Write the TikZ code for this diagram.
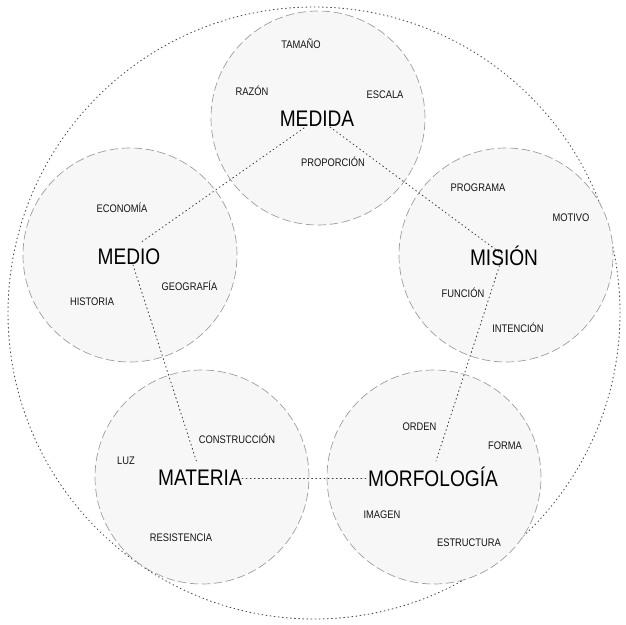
\documentclass[tikz,border=0pt]{standalone}
\usepackage{fontspec}
\setmainfont{Liberation Sans}[FakeStretch=0.85]
\begin{document}
\begin{tikzpicture}[x=1pt,y=-1pt,
  zone/.style={circle, draw=black!38, fill=black!3, dash pattern=on 8.5pt off 3.5pt, line width=0.7pt, minimum size=214pt, inner sep=0pt},
  outer/.style={circle, draw=black!70, line width=0.9pt, dash pattern=on 0.9pt off 3.2pt, line cap=round, minimum size=612pt, inner sep=0pt},
  big/.style={font=\fontsize{22.5}{24}\selectfont, inner sep=0pt, text height=16.1pt, text depth=0pt, text=black},
  small/.style={font=\fontsize{11}{12}\selectfont, inner sep=0pt, text height=7.9pt, text depth=0pt, text=black!92},
  link/.style={draw=black!75, line width=0.9pt, dash pattern=on 0.9pt off 3.2pt, line cap=round}]
\useasboundingbox (0,0) rectangle (626,624);
\node[outer] (ring) at (314,313) {};
\node[zone] (cMedida) at (318,118) {};
\node[zone] (cMedio) at (130,255) {};
\node[zone] (cMision) at (506,255) {};
\node[zone] (cMateria) at (202,477) {};
\node[zone] (cMorf) at (434,477) {};
% MEDIDA
\node[big] (medida) at (317,118) {MEDIDA};
\node[small] (tamano) at (301,45) {TAMAÑO};
\node[small] (razon) at (252,92) {RAZÓN};
\node[small] (escala) at (385,95) {ESCALA};
\node[small] (proporcion) at (333,163) {PROPORCIÓN};
% MISION
\node[big] (mision) at (504,257) {MISIÓN};
\node[small] (programa) at (478,188) {PROGRAMA};
\node[small] (motivo) at (571,218) {MOTIVO};
\node[small] (funcion) at (463,294) {FUNCIÓN};
\node[small] (intencion) at (518,329) {INTENCIÓN};
% MEDIO
\node[big] (medio) at (129,256) {MEDIO};
\node[small] (economia) at (122,209) {ECONOMÍA};
\node[small] (geografia) at (189.5,287) {GEOGRAFÍA};
\node[small] (historia) at (92,302) {HISTORIA};
% MATERIA
\node[big] (materia) at (200,477) {MATERIA};
\node[small] (construccion) at (237,440) {CONSTRUCCIÓN};
\node[small] (luz) at (126,461) {LUZ};
\node[small] (resistencia) at (181,538) {RESISTENCIA};
% MORFOLOGIA
\node[big] (morf) at (433,478) {MORFOLOGÍA};
\node[small] (orden) at (419.5,427) {ORDEN};
\node[small] (forma) at (505,446) {FORMA};
\node[small] (imagen) at (382,515) {IMAGEN};
\node[small] (estructura) at (469,543) {ESTRUCTURA};
% connectors
\coordinate (pMedidaL) at (304,128);
\coordinate (pMedidaR) at (330,127);
\coordinate (pMedioT) at (140,243);
\coordinate (pMedioB) at (133,265);
\coordinate (pMisionT) at (503,255);
\coordinate (pMisionB) at (502,258);
\coordinate (pMateriaT) at (197,463);
\coordinate (pMateriaR) at (242,478);
\coordinate (pMorfL) at (367,478);
\coordinate (pMorfT) at (436,461);
\draw[link] (pMedidaL) -- (pMedioT);
\draw[link] (pMedidaR) -- (pMisionT);
\draw[link] (pMedioB) -- (pMateriaT);
\draw[link] (pMisionB) -- (pMorfT);
\draw[link] (pMateriaR) -- (pMorfL);
\end{tikzpicture}
\end{document}
